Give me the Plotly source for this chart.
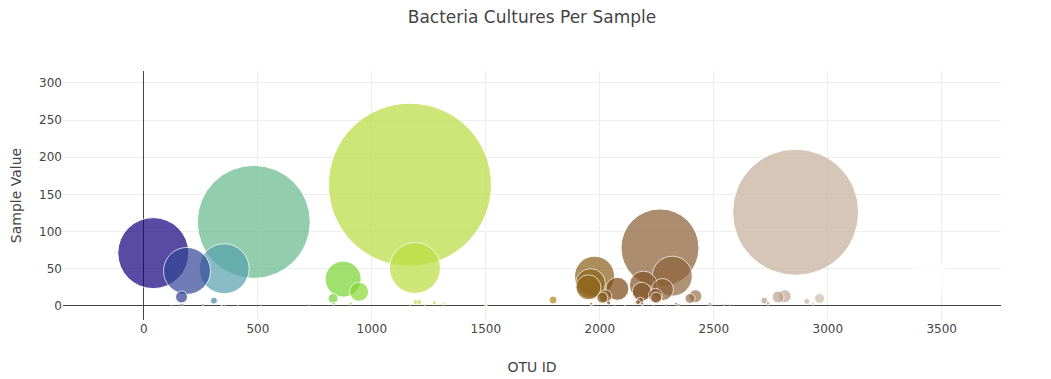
import plotly.graph_objects as go

otu_ids = [1167, 2859, 482, 2264, 41, 1189, 352, 189, 2318, 1977, 3450, 874, 1959, 2191,
           1950, 2077, 2275, 944, 2184, 2244, 2024, 2419, 2811, 165, 2782, 2247, 2011, 2396,
           830, 2964, 1795, 2722, 307, 2178, 2908, 1193, 2167, 1208, 2039, 1274, 2739, 2737,
           1314, 1962, 2186, 2335, 2936, 907, 833, 2483, 2475, 2491, 2291, 159, 2571, 2350,
           2342, 2546, 725, 170, 1505, 513, 259, 1169, 258, 1232, 1497, 1498, 1503, 412,
           2235, 1960, 1968, 121, 2065, 340, 2110, 2188, 357, 342]
sample_values = [163, 126, 113, 78, 71, 51, 50, 47, 40, 40, 37, 36, 30, 28,
                 25, 23, 22, 19, 19, 14, 13, 13, 13, 12, 12, 11, 11, 10,
                 10, 10, 8, 7, 7, 7, 6, 5, 5, 5, 4, 4, 4, 3,
                 3, 3, 3, 3, 3, 3, 3, 3, 2, 2, 2, 2, 2, 2,
                 2, 2, 2, 2, 2, 2, 2, 2, 2, 2, 1, 1, 1, 1,
                 1, 1, 1, 1, 1, 1, 1, 1, 1, 1]

x_ticks = [0, 500, 1000, 1500, 2000, 2500, 3000, 3500]
y_ticks = [0, 50, 100, 150, 200, 250, 300]

# Earth-like colorscale, tuned to the muted tones of the reference
earth = [[0, "rgb(20,0,125)"], [0.043, "rgb(50,70,150)"], [0.091, "rgb(85,160,175)"],
         [0.129, "rgb(100,185,140)"], [0.244, "rgb(120,212,50)"], [0.33, "rgb(184,220,62)"],
         [0.4, "rgb(230,230,50)"], [0.6, "rgb(120,70,20)"], [1, "rgb(255,255,255)"]]

fig = go.Figure(go.Scatter(
    x=otu_ids,
    y=sample_values,
    mode="markers",
    marker=dict(size=sample_values, color=otu_ids, colorscale=earth,
                opacity=0.7, line=dict(color="white", width=1)),
))

fig.update_layout(
    template="none",
    width=1051, height=379,
    margin=dict(l=55, r=58, t=63, b=67),
    title=dict(text="Bacteria Cultures Per Sample", x=0.5, xref="paper", xanchor="center",
               y=1 - 9 / 379, yref="container", yanchor="middle",
               font=dict(size=17, color="#444")),
    font=dict(family="Verdana, 'DejaVu Sans', sans-serif", size=12, color="#444"),
    hovermode="closest",
    showlegend=False,
    plot_bgcolor="white", paper_bgcolor="white",
    xaxis=dict(title=dict(text="OTU ID"), range=[-355, 3760], tickvals=x_ticks,
               gridcolor="#eee", zeroline=True, zerolinecolor="#444", zerolinewidth=1,
               showline=False, ticks=""),
    yaxis=dict(title=dict(text="Sample Value", standoff=16), range=[-19, 316], tickvals=y_ticks,
               gridcolor="#eee", zeroline=True, zerolinecolor="#444", zerolinewidth=1,
               showline=False, ticks=""),
)

fig.write_html("out.html")
